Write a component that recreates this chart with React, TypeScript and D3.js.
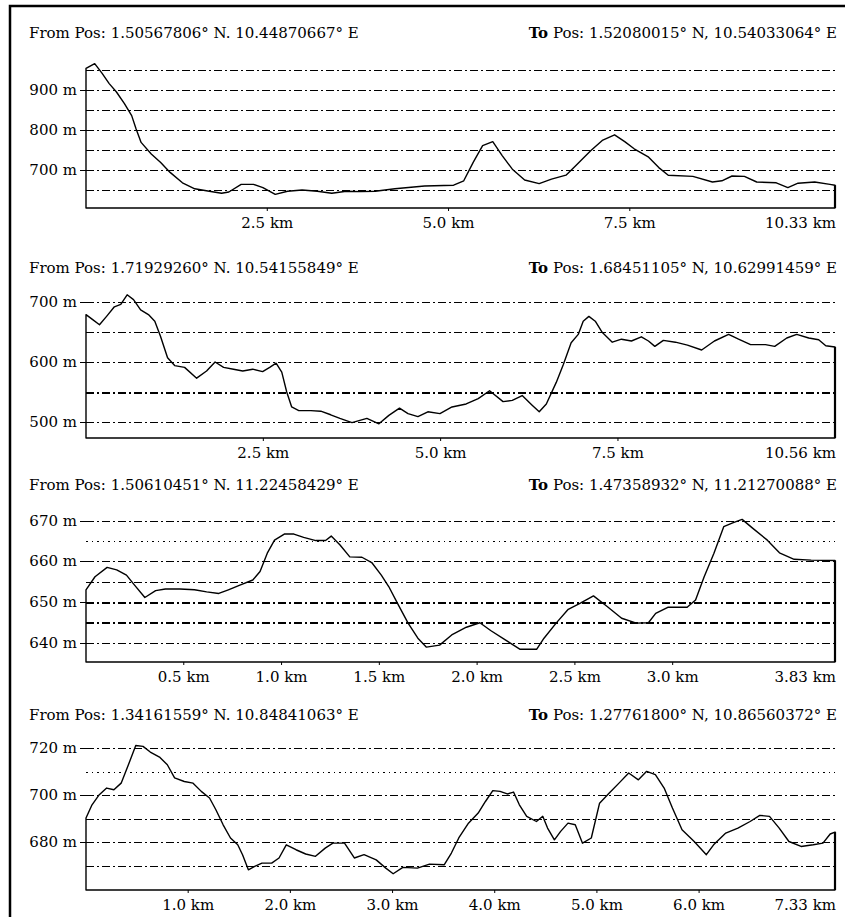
import * as d3 from 'd3';

// ---- panel 1 ----
const p1Km = [0, 0.12, 0.22, 0.32, 0.42, 0.53, 0.63, 0.69, 0.76, 0.9, 1.03, 1.16, 1.33, 1.5, 1.7, 1.87, 1.97, 2.14, 2.31, 2.44, 2.61, 2.78, 2.98, 3.19, 3.39, 3.59, 3.79, 3.99, 4.26, 4.67, 5.07, 5.21, 5.34, 5.47, 5.61, 5.74, 5.88, 6.05, 6.25, 6.42, 6.62, 6.75, 6.96, 7.12, 7.29, 7.43, 7.56, 7.76, 7.9, 8.03, 8.37, 8.64, 8.77, 8.91, 9.08, 9.25, 9.52, 9.68, 9.82, 10.05, 10.26, 10.33];
const p1Elev = [954, 966, 942, 916, 895, 866, 836, 803, 769, 740, 719, 694, 668, 653, 647, 642, 645, 664, 664, 656, 639, 647, 650, 647, 642, 647, 646, 647, 653, 660, 662, 673, 719, 761, 771, 736, 702, 675, 666, 677, 687, 710, 748, 774, 788, 771, 753, 732, 706, 687, 684, 670, 673, 685, 684, 670, 668, 656, 667, 670, 664, 662];
const p1Grid = [650, 700, 750, 800, 850, 900, 950];
const p1YLabels = [700, 800, 900];
const p1XTicks = [2.5, 5.0, 7.5];
const p1Total = 10.33;

// ---- panel 2 ----
const p2Km = [0, 0.09, 0.19, 0.29, 0.4, 0.49, 0.58, 0.67, 0.77, 0.88, 0.97, 1.05, 1.15, 1.25, 1.39, 1.56, 1.7, 1.82, 1.94, 2.08, 2.21, 2.35, 2.49, 2.59, 2.68, 2.76, 2.83, 2.9, 3.0, 3.17, 3.31, 3.45, 3.58, 3.75, 3.96, 4.13, 4.27, 4.42, 4.54, 4.68, 4.82, 4.99, 5.16, 5.36, 5.53, 5.69, 5.88, 6.01, 6.15, 6.29, 6.39, 6.49, 6.63, 6.73, 6.84, 6.94, 7.01, 7.09, 7.18, 7.28, 7.42, 7.55, 7.69, 7.83, 7.93, 8.02, 8.14, 8.31, 8.48, 8.68, 8.86, 9.06, 9.2, 9.37, 9.58, 9.71, 9.88, 10.02, 10.19, 10.33, 10.43, 10.56];
const p2Elev = [679, 671, 662, 676, 692, 696, 712, 704, 687, 679, 668, 643, 607, 594, 591, 573, 585, 600, 591, 588, 585, 588, 584, 591, 598, 583, 550, 525, 519, 519, 518, 512, 506, 499, 506, 497, 511, 523, 514, 509, 517, 514, 525, 530, 539, 552, 534, 536, 544, 528, 517, 530, 566, 596, 632, 646, 668, 676, 668, 649, 633, 638, 635, 642, 635, 626, 636, 633, 628, 620, 635, 646, 638, 629, 629, 626, 640, 646, 640, 637, 627, 625];
const p2Grid = [500, 550, 600, 650, 700];
const p2YLabels = [500, 600, 700];
const p2XTicks = [2.5, 5.0, 7.5];
const p2Total = 10.56;

// ---- panel 3 ----
const p3Km = [0, 0.046, 0.108, 0.157, 0.207, 0.244, 0.301, 0.356, 0.406, 0.48, 0.555, 0.617, 0.679, 0.728, 0.79, 0.853, 0.89, 0.927, 0.964, 1.014, 1.063, 1.113, 1.175, 1.225, 1.254, 1.299, 1.349, 1.411, 1.461, 1.51, 1.548, 1.597, 1.647, 1.697, 1.741, 1.808, 1.87, 1.945, 2.014, 2.069, 2.144, 2.218, 2.305, 2.342, 2.404, 2.466, 2.528, 2.595, 2.665, 2.739, 2.814, 2.876, 2.913, 2.975, 3.074, 3.117, 3.161, 3.211, 3.261, 3.31, 3.355, 3.41, 3.484, 3.546, 3.621, 3.708, 3.83];
const p3Elev = [653.0, 656.2, 658.5, 657.9, 656.6, 654.4, 651.1, 652.8, 653.2, 653.2, 653.0, 652.5, 652.1, 653.0, 654.2, 655.4, 657.5, 662.0, 665.2, 666.7, 666.7, 665.9, 665.1, 665.1, 666.2, 664.0, 661.1, 661.0, 659.7, 656.6, 653.8, 649.3, 644.8, 641.1, 638.9, 639.4, 641.9, 643.8, 644.9, 643.0, 640.7, 638.4, 638.4, 641.1, 644.8, 648.2, 649.7, 651.5, 648.9, 646.0, 644.8, 644.9, 647.2, 648.7, 648.7, 650.5, 656.2, 662.0, 668.5, 669.5, 670.3, 668.1, 665.2, 662.1, 660.5, 660.3, 660.2];
const p3Grid = [640, 645, 650, 655, 660, 665, 670];
const p3YLabels = [640, 650, 660, 670];
const p3XTicks = [0.5, 1.0, 1.5, 2.0, 2.5, 3.0];
const p3Total = 3.83;

// ---- panel 4 ----
const p4Km = [0, 0.059, 0.13, 0.202, 0.273, 0.344, 0.415, 0.487, 0.558, 0.629, 0.724, 0.796, 0.867, 0.962, 1.048, 1.128, 1.209, 1.271, 1.342, 1.414, 1.485, 1.532, 1.589, 1.651, 1.722, 1.817, 1.889, 1.96, 2.055, 2.15, 2.246, 2.341, 2.416, 2.53, 2.626, 2.721, 2.84, 2.934, 3.006, 3.101, 3.243, 3.362, 3.505, 3.576, 3.648, 3.743, 3.838, 3.909, 3.981, 4.052, 4.123, 4.184, 4.241, 4.313, 4.408, 4.47, 4.517, 4.584, 4.645, 4.717, 4.788, 4.859, 4.945, 5.026, 5.121, 5.216, 5.311, 5.406, 5.487, 5.572, 5.658, 5.739, 5.833, 5.952, 6.071, 6.142, 6.261, 6.38, 6.499, 6.594, 6.689, 6.784, 6.879, 6.998, 7.117, 7.212, 7.283, 7.33];
const p4Elev = [690.3, 695.9, 700.2, 703.0, 702.3, 705.1, 712.9, 721.1, 720.7, 718.3, 716.0, 712.9, 707.3, 705.8, 705.1, 701.6, 698.8, 693.8, 687.4, 681.8, 678.9, 674.7, 668.3, 669.7, 671.1, 671.1, 673.3, 678.9, 676.8, 675.0, 674.0, 677.5, 679.6, 679.6, 673.3, 674.7, 672.5, 669.0, 666.6, 669.3, 669.0, 670.7, 670.4, 675.4, 681.8, 688.1, 692.4, 697.3, 701.9, 701.6, 700.5, 701.3, 695.9, 691.0, 688.8, 691.0, 686.0, 681.0, 684.6, 688.1, 687.4, 679.6, 681.8, 696.6, 700.9, 705.1, 709.4, 706.5, 710.1, 708.7, 703.0, 694.5, 685.3, 680.3, 674.7, 678.9, 683.9, 686.0, 688.8, 691.4, 691.0, 686.0, 680.3, 678.2, 678.9, 679.6, 683.5, 684.3];
const p4Grid = [670, 680, 690, 700, 710, 720];
const p4YLabels = [680, 700, 720];
const p4XTicks = [1.0, 2.0, 3.0, 4.0, 5.0, 6.0];
const p4Total = 7.33;

const fromLabels = [
  '1.50567806° N. 10.44870667° E',
  '1.71929260° N. 10.54155849° E',
  '1.50610451° N. 11.22458429° E',
  '1.34161559° N. 10.84841063° E',
];
const toLabels = [
  '1.52080015° N, 10.54033064° E',
  '1.68451105° N, 10.62991459° E',
  '1.47358932° N, 11.21270088° E',
  '1.27761800° N, 10.86560372° E',
];

const WIDTH = 845;
const HEIGHT = 917;
const X0 = 86;
const X1 = 835;
const FONT = '"DejaVu Serif", "Liberation Serif", serif';

// layout per panel: header baseline, plot top/bottom, y domain
const PANELS = [
  { km: p1Km, elev: p1Elev, grid: p1Grid, yLabels: p1YLabels, xTicks: p1XTicks, total: p1Total, yDomain: [605, 967.5], head: 38, top: 63, bottom: 208, dotted: [] as number[], heavy: [] as number[] },
  { km: p2Km, elev: p2Elev, grid: p2Grid, yLabels: p2YLabels, xTicks: p2XTicks, total: p2Total, yDomain: [473.3, 715], head: 273, top: 293, bottom: 438, dotted: [], heavy: [550] },
  { km: p3Km, elev: p3Elev, grid: p3Grid, yLabels: p3YLabels, xTicks: p3XTicks, total: p3Total, yDomain: [635.25, 670.4], head: 490, top: 519, bottom: 662, dotted: [665], heavy: [645, 650] },
  { km: p4Km, elev: p4Elev, grid: p4Grid, yLabels: p4YLabels, xTicks: p4XTicks, total: p4Total, yDomain: [659.7, 721.3], head: 720, top: 745, bottom: 890, dotted: [710], heavy: [] },
];

// snap a 1px horizontal line onto the pixel grid so it renders crisp
const snap = (v: number) => Math.round(v) + 0.5;

function Profile({ p, i }: { p: (typeof PANELS)[number]; i: number }) {
  const x = d3.scaleLinear().domain([0, p.total]).range([X0, X1]);
  const y = d3.scaleLinear().domain(p.yDomain).range([p.bottom, p.top]);

  const pts: [number, number][] = p.km.map((k, j) => [k, p.elev[j]]);
  const closed: [number, number][] = [[0, p.yDomain[0]], ...pts, [p.total, p.yDomain[0]]];
  const line = d3
    .line<[number, number]>()
    .x((d) => x(d[0]))
    .y((d) => y(d[1]));

  return (
    <g>
      {/* header */}
      <text x={29} y={p.head} fontSize={15}>
        From Pos: {fromLabels[i]}
      </text>
      <text x={837} y={p.head} fontSize={15} textAnchor="end">
        <tspan fontWeight="bold">To</tspan> Pos: {toLabels[i]}
      </text>

      {/* grid lines */}
      {p.grid.map((g) => (
        <line
          key={g}
          x1={X0}
          x2={X1}
          y1={snap(y(g))}
          y2={snap(y(g))}
          stroke="#000"
          strokeWidth={p.heavy.includes(g) ? 2 : 1}
          strokeDasharray={p.dotted.includes(g) ? '1.5,4' : '8,3,2,3'}
          shapeRendering="crispEdges"
        />
      ))}

      {/* y labels */}
      {p.yLabels.map((v) => (
        <g key={v}>
          <line x1={80} x2={X0} y1={snap(y(v))} y2={snap(y(v))} stroke="#000" strokeWidth={1} shapeRendering="crispEdges" />
          <text x={77} y={y(v) + 5} fontSize={15} textAnchor="end">
            {v} m
          </text>
        </g>
      ))}

      {/* profile */}
      <path d={line(closed) + 'Z'} fill="none" stroke="#000" strokeWidth={1.4} strokeLinejoin="round" />
      <line x1={X1} x2={X1} y1={y(p.elev[p.elev.length - 1])} y2={p.bottom} stroke="#000" strokeWidth={2.2} />

      {/* x ticks */}
      {p.xTicks.map((t) => (
        <g key={t}>
          <line x1={x(t)} x2={x(t)} y1={p.bottom} y2={p.bottom + 3} stroke="#000" />
          <text x={x(t)} y={p.bottom + 20} fontSize={15} textAnchor="middle">
            {t.toFixed(1)} km
          </text>
        </g>
      ))}
      <text x={x(p.total) + 1} y={p.bottom + 20} fontSize={15} textAnchor="end">
        {p.total.toFixed(2)} km
      </text>
    </g>
  );
}

export default function App() {
  return (
    <svg
      width={WIDTH}
      height={HEIGHT}
      style={{ position: 'absolute', left: 0, top: 0, background: '#fff', fontFamily: FONT }}
    >
      <rect x={0} y={0} width={WIDTH} height={HEIGHT} fill="#fff" />
      <rect x={10} y={6} width={1000} height={1000} fill="none" stroke="#000" strokeWidth={2.5} />
      {PANELS.map((p, i) => (
        <Profile key={i} p={p} i={i} />
      ))}
    </svg>
  );
}
